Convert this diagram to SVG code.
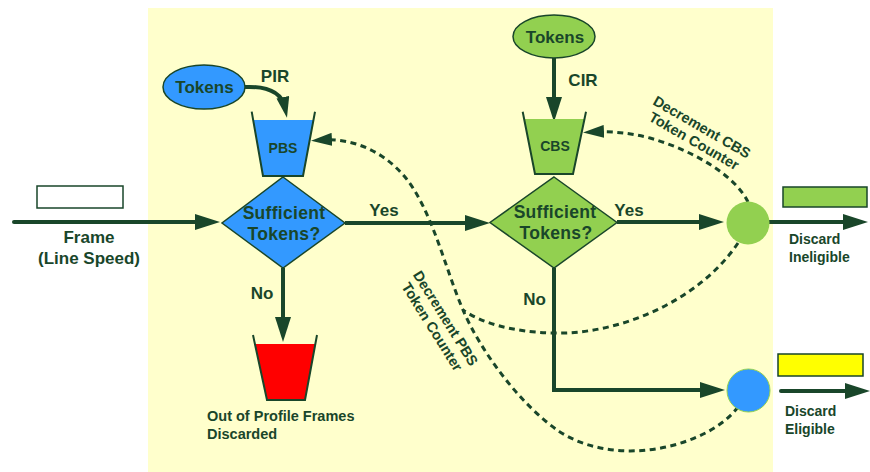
<svg xmlns="http://www.w3.org/2000/svg" width="870" height="472" viewBox="0 0 870 472">
  <style>
    .t { font-family: "Liberation Sans", Arial, sans-serif; font-weight: bold; fill: #19462A; }
    .lg { font-size: 17px; }
    .xl { font-size: 17.5px; letter-spacing: 0.3px; }
    .md { font-size: 14.5px; }
    .sm { font-size: 14px; }
    .c { text-anchor: middle; }
    .flow { fill: none; stroke: #19462A; stroke-width: 4; }
    .dash { fill: none; stroke: #19462A; stroke-width: 3; stroke-dasharray: 6 4.5; }
    .edge { stroke: #19462A; stroke-width: 1.5; }
    .rim { fill: none; stroke: #19462A; stroke-width: 2; stroke-linejoin: miter; }
  </style>
  <defs>
    <marker id="arrow" markerUnits="userSpaceOnUse" markerWidth="25" markerHeight="16" refX="15" refY="8" orient="auto">
      <path d="M0,0 L25,8 L0,16 z" fill="#19462A"/>
    </marker>
    <marker id="arrowSm" markerUnits="userSpaceOnUse" markerWidth="21" markerHeight="13" refX="11" refY="6.5" orient="auto">
      <path d="M0,0 L21,6.5 L0,13 z" fill="#19462A"/>
    </marker>
  </defs>

  <!-- white page and the policer area -->
  <rect x="0" y="0" width="870" height="472" fill="#FFFFFF"/>
  <rect x="148" y="8" width="625" height="464" fill="#FFFFCC"/>

  <!-- connectors -->
  <g id="connectors">
    <!-- incoming frame -->
    <path class="flow" d="M14,222 L210,222" stroke-linecap="round" marker-end="url(#arrow)"/>
    <!-- PIR tokens into PBS -->
    <path class="flow" stroke-width="3.5" d="M245,87 C268,86 282,93 285,108" marker-end="url(#arrowSm)"/>
    <!-- CIR tokens into CBS -->
    <path class="flow" d="M554,58 L554,112" marker-end="url(#arrow)"/>
    <!-- Yes: PBS check to CBS check -->
    <path class="flow" d="M345,223 L480,223" marker-end="url(#arrow)"/>
    <!-- No: out of profile -->
    <path class="flow" d="M283,268 L283,332" marker-end="url(#arrow)"/>
    <!-- Yes: CBS check to green marker -->
    <path class="flow" d="M617,222 L714,222" marker-end="url(#arrow)"/>
    <!-- No: CBS check to blue marker -->
    <path class="flow" d="M554,268 L554,390 L715,390" marker-end="url(#arrow)"/>
    <!-- outputs -->
    <path class="flow" d="M768,222 L858,222" marker-end="url(#arrow)"/>
    <path class="flow" d="M781,391 L860,391" stroke-linecap="round" marker-end="url(#arrow)"/>

    <!-- decrement CBS counter -->
    <path class="dash" d="M748,202 C735,175 692,150 650,138 C630,133 612,131 593,132" marker-end="url(#arrowSm)"/>
    <!-- decrement PBS counter (from blue marker) -->
    <path class="dash" d="M738,407 C710,445 620,470 560,432 C520,405 480,350 463,310 C445,268 432,210 405,177 C382,150 352,138 321,140" marker-end="url(#arrowSm)"/>
    <!-- decrement PBS counter (from green marker) -->
    <path class="dash" d="M738,243 C700,300 620,335 553,333 C510,332 480,322 463,310"/>
  </g>

  <!-- nodes -->
  <g id="frame-in">
    <rect x="37" y="186" width="86" height="22" fill="#FFFFFF" class="edge" stroke-width="1.2"/>
    <text class="t lg c" x="89" y="243">Frame</text>
    <text class="t lg c" x="89" y="264">(Line Speed)</text>
  </g>

  <g id="pir-tokens">
    <ellipse cx="204" cy="87" rx="41" ry="22" fill="#3399FF" class="edge"/>
    <text class="t lg c" x="204.5" y="93">Tokens</text>
    <text class="t lg c" x="275" y="81.5">PIR</text>
  </g>

  <g id="pbs-bucket">
    <polygon points="253.2,120 313.5,120 303,176 263,176" fill="#3399FF"/>
    <polyline class="rim" points="251.7,111.7 263,176 303,176 315,111.7"/>
    <text class="t sm c" x="283" y="153">PBS</text>
  </g>

  <g id="pbs-check">
    <polygon points="283,177 345,223 283,268 222,223" fill="#3399FF" class="edge"/>
    <text class="t xl c" x="284" y="218.5">Sufficient</text>
    <text class="t xl c" x="284" y="240">Tokens?</text>
    <text class="t lg c" x="262" y="299">No</text>
    <text class="t lg c" x="384" y="216">Yes</text>
  </g>

  <g id="out-of-profile">
    <polygon points="254.9,344 315.3,344 305,400 267,400" fill="#FF0000"/>
    <polyline class="rim" points="253,335 267,400 305,400 317,335"/>
    <text class="t md" x="207" y="420.5">Out of Profile Frames</text>
    <text class="t md" x="207" y="439">Discarded</text>
  </g>

  <g id="cir-tokens">
    <ellipse cx="554" cy="36.5" rx="41" ry="21.5" fill="#92D050" class="edge"/>
    <text class="t lg c" x="555" y="43">Tokens</text>
    <text class="t lg c" x="583" y="86">CIR</text>
  </g>

  <g id="cbs-bucket">
    <polygon points="524.1,119 584.6,119 573,174 535,174" fill="#92D050"/>
    <polyline class="rim" points="522.7,111.7 535,174 573,174 586,111.7"/>
    <text class="t sm c" x="555" y="151">CBS</text>
  </g>

  <g id="cbs-check">
    <polygon points="554,177 617,222.5 554,268 490,222.5" fill="#92D050" class="edge"/>
    <text class="t xl c" x="555" y="218">Sufficient</text>
    <text class="t xl c" x="556" y="239">Tokens?</text>
    <text class="t lg c" x="629" y="216">Yes</text>
    <text class="t lg c" x="534.5" y="305">No</text>
  </g>

  <g id="discard-ineligible">
    <circle cx="748" cy="223" r="21.5" fill="#92D050"/>
    <rect x="783" y="187" width="84" height="20" fill="#92D050" class="edge" stroke-width="1.2"/>
    <text class="t sm" x="789" y="244">Discard</text>
    <text class="t sm" x="789" y="262">Ineligible</text>
  </g>

  <g id="discard-eligible">
    <circle cx="748.5" cy="390.5" r="21.5" fill="#3399FF" stroke="#92D050" stroke-width="1"/>
    <rect x="778" y="354" width="85" height="22" fill="#FFFF00" class="edge" stroke-width="1.2"/>
    <text class="t sm" x="785" y="415.5">Discard</text>
    <text class="t sm" x="785" y="433.5">Eligible</text>
  </g>

  <g id="label-cbs-counter" transform="translate(698,134) rotate(30)">
    <text class="t md c" x="0" y="-3">Decrement CBS</text>
    <text class="t md c" x="0" y="13">Token Counter</text>
  </g>

  <g id="label-pbs-counter" transform="translate(438,323) rotate(58)">
    <text class="t md c" x="0" y="-4">Decrement PBS</text>
    <text class="t md c" x="0" y="12">Token Counter</text>
  </g>
</svg>
